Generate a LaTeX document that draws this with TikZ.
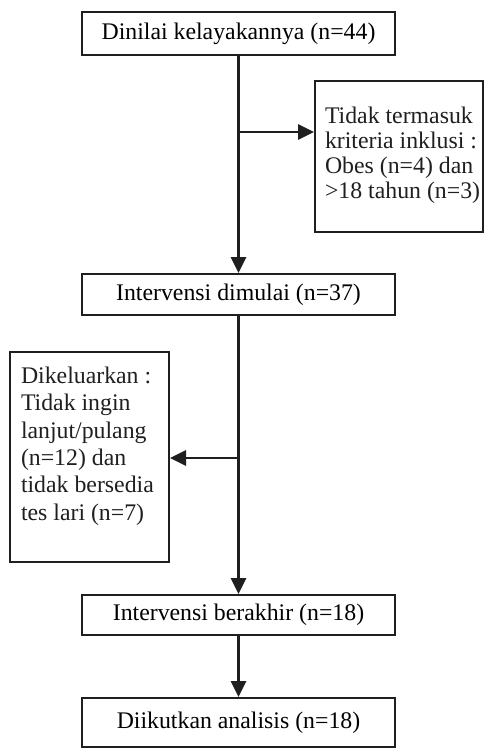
\documentclass[tikz,border=0pt]{standalone}
\usepackage{fontspec}
\setmainfont{Liberation Serif}
\usetikzlibrary{arrows.meta}
\begin{document}
\begin{tikzpicture}
  [
  x=1pt, y=-1pt,
  font=\fontsize{23.8}{27}\selectfont, line width=2pt, draw=black!88,
  stepbox/.style={rectangle, draw=black!88, line width=2pt, minimum width=313pt, inner sep=0pt},
  sidebox/.style={rectangle, draw=black!88, line width=2pt, inner sep=0pt},
  sidetext/.style={anchor=north west, align=left, inner sep=0pt, text=black!88},
  flow/.style={line width=2.8pt, draw=black!88, -{Triangle[length=16pt,width=15pt]}},
  ]
\useasboundingbox (0,0) rectangle (485,748);

\node[stepbox, minimum height=43pt] (assess) at (238.5,33.5) {Dinilai kelayakannya (n=44)};
\node[stepbox, minimum height=41pt] (start) at (238.5,294.5) {Intervensi dimulai (n=37)};
\node[stepbox, minimum height=40pt] (finish) at (238.5,615) {Intervensi berakhir (n=18)};
\node[stepbox, minimum height=49pt] (analysis) at (238.5,722.5) {Diikutkan analisis (n=18)};

% side boxes
\node[sidebox, minimum width=168pt, minimum height=151pt] (excl) at (399,156.5) {};
\node[sidetext, font=\fontsize{23.8}{25}\selectfont] (excltext) at (324,105.7)
  {Tidak termasuk\\kriteria inklusi :\\Obes (n=4) dan\\>18 tahun (n=3)};
\node[sidebox, minimum width=159pt, minimum height=210pt] (drop) at (89.5,457) {};
\node[sidetext, font=\fontsize{23.8}{27.4}\selectfont] (droptext) at (20,365.7)
  {Dikeluarkan :\\Tidak ingin\\lanjut/pulang\\(n=12) dan\\tidak bersedia\\tes lari (n=7)};

\coordinate (split1) at (238.5,132);
\coordinate (split2) at (238.5,458);

\draw[flow] (assess) -- (start);
\draw[flow] (split1) -- (split1 -| excl.west);
\draw[flow] (start) -- (finish);
\draw[flow] (split2) -- (split2 -| drop.east);
\draw[flow] (finish) -- (analysis);
\end{tikzpicture}
\end{document}
